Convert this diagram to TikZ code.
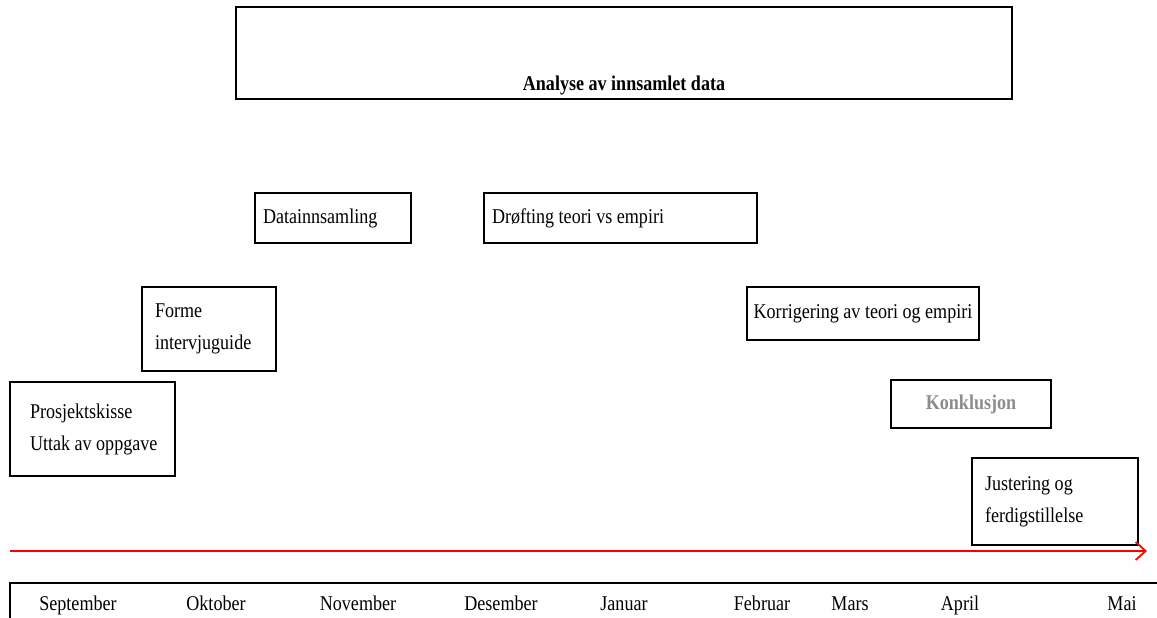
\documentclass[tikz,border=0pt]{standalone}
\usepackage{fontspec}
\setmainfont{Liberation Serif}[FakeStretch=0.86,WordSpace=1.0]
\usetikzlibrary{arrows.meta}
\begin{document}
\begin{tikzpicture}[x=1pt,y=-1pt,
  box/.style={draw=black,line width=1.3pt,align=flush left,inner ysep=0pt,
    font=\fontsize{21}{32}\selectfont},
  month/.style={anchor=base,inner sep=0pt,font=\fontsize{21}{24}\selectfont}]
\useasboundingbox (0,0) rectangle (1157,618);

% top analysis box
\node[draw=black,line width=2pt,minimum width=776,minimum height=92,inner sep=0pt]
  (analyse) at (624,53) {};
\node[anchor=base,inner sep=0pt,font=\fontsize{21}{24}\selectfont\bfseries]
  (analysetxt) at (624,90) {Analyse av innsamlet data};

% activity boxes
\node[box,text width=140,inner xsep=8,minimum height=50] (data) at (333,218) {Datainnsamling};
\node[box,text width=257,inner xsep=8,minimum height=50] (drofting) at (620.5,218) {Drøfting teori vs empiri};
\node[box,text width=108,inner xsep=13,minimum height=84] (forme) at (209,329) {Forme\\intervjuguide};
\node[box,minimum width=232,inner xsep=0,minimum height=53,align=center] (korr) at (863,313.5) {Korrigering av teori og empiri};
\node[box,text width=125,inner xsep=20,minimum height=94] (prosjekt) at (92.5,429) {\mbox{Prosjektskisse}\\\mbox{Uttak av oppgave}};
\node[box,minimum width=160,inner xsep=0,minimum height=48,align=center,
  font=\fontsize{21}{24}\selectfont\bfseries,text=black!45] (konkl) at (971,404) {Konklusjon};
\node[box,text width=140,inner xsep=13,minimum height=87] (just) at (1055,501.5) {Justering og\\ferdigstillelse};

% time arrow
\coordinate (tstart) at (10,551);
\coordinate (tend) at (1147,551);
\draw[red,line width=2pt,-{Straight Barb[length=10pt,width=18pt,line width=1.8pt]}] (tstart) -- (tend);

% month axis
\coordinate (axa) at (10,618);
\coordinate (axb) at (10,583);
\coordinate (axc) at (1157,583);
\draw[line width=1.5pt] (axa) -- (axb) -- (axc);

\node[month] (sep) at (78,610) {September};
\node[month] (okt) at (216,610) {Oktober};
\node[month] (nov) at (358,610) {November};
\node[month] (des) at (501,610) {Desember};
\node[month] (jan) at (624,610) {Januar};
\node[month] (feb) at (762,610) {Februar};
\node[month] (mar) at (850,610) {Mars};
\node[month] (apr) at (960,610) {April};
\node[month] (mai) at (1122,610) {Mai};
\end{tikzpicture}
\end{document}
